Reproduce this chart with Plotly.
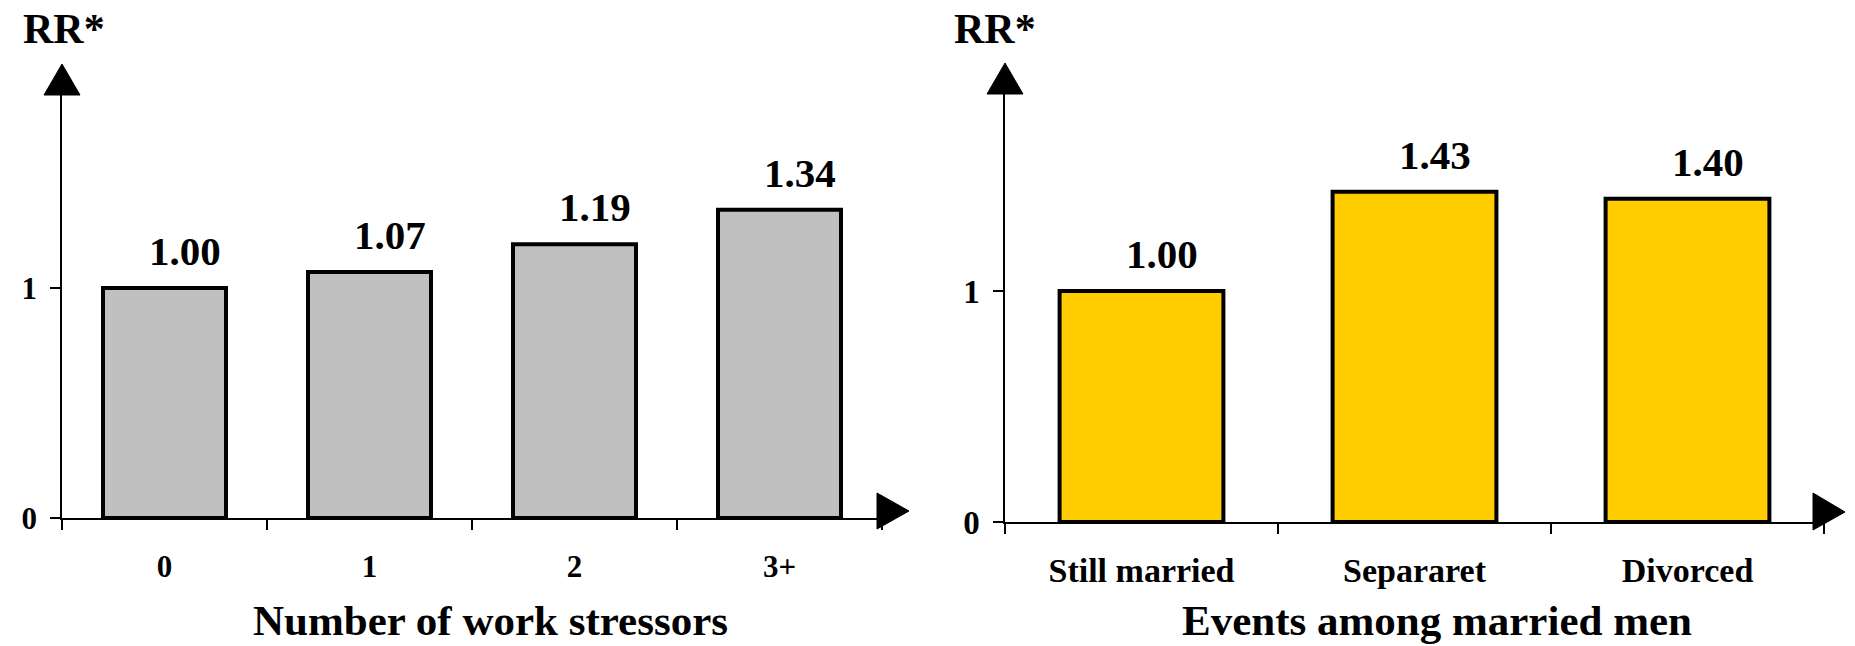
import plotly.graph_objects as go

# ---- data ----
stressor_cats = ["0", "1", "2", "3+"]
stressor_rr = [1.00, 1.07, 1.19, 1.34]
event_cats = ["Still married", "Separaret", "Divorced"]
event_rr = [1.00, 1.43, 1.40]
y_tickvals = [0, 1]
left_title = "Number of work stressors"
right_title = "Events among married men"
y_label = "RR*"

W, H = 1855, 646
FONT = "Liberation Serif, Times New Roman, serif"

fig = go.Figure()

fig.add_trace(go.Bar(
    x=stressor_cats, y=stressor_rr, xaxis="x", yaxis="y",
    marker=dict(color="#C0C0C0", line=dict(color="black", width=4)),
    hoverinfo="skip", showlegend=False,
))
fig.add_trace(go.Bar(
    x=event_cats, y=event_rr, xaxis="x2", yaxis="y2",
    marker=dict(color="#FFCC00", line=dict(color="black", width=4)),
    hoverinfo="skip", showlegend=False,
))

def px_domain_x(a, b):
    return [a / W, b / W]

def px_domain_y(bottom_px, top_px):
    return [(H - bottom_px) / H, (H - top_px) / H]

common_x = dict(
    type="category", showgrid=False, zeroline=False, showline=True,
    linecolor="black", linewidth=1.5, ticks="outside", ticklen=10,
    tickwidth=1.5, tickcolor="black", tickson="boundaries", automargin=False,
)
common_y = dict(
    showgrid=False, zeroline=False, showline=True, linecolor="black",
    linewidth=1.5, ticks="outside", ticklen=10, tickwidth=1.5,
    tickcolor="black", tickvals=y_tickvals, ticklabelstandoff=7,
    automargin=False,
)

fig.update_layout(
    width=W, height=H,
    margin=dict(l=0, r=0, t=0, b=0),
    paper_bgcolor="white", plot_bgcolor="white",
    bargap=0.4,
    font=dict(family=FONT, color="black"),
    xaxis=dict(common_x, domain=px_domain_x(62, 882), range=[-0.5, 3.5],
               anchor="y", ticklabelstandoff=20,
               tickfont=dict(family=FONT, size=31, weight="bold", color="black")),
    yaxis=dict(common_y, domain=px_domain_y(518, 95), range=[0, 1.839],
               anchor="x",
               tickfont=dict(family=FONT, size=31, weight="bold", color="black")),
    xaxis2=dict(common_x, domain=px_domain_x(1005, 1824), range=[-0.5, 2.5],
                anchor="y2", ticklabelstandoff=17,
                tickfont=dict(family=FONT, size=34, weight="bold", color="black")),
    yaxis2=dict(common_y, domain=px_domain_y(522, 94), range=[0, 1.853],
                anchor="x2",
                tickfont=dict(family=FONT, size=33, weight="bold", color="black")),
)

# value labels above bars (slightly right of bar centre, as in the original)
for cats, vals, xa, ya in [(stressor_cats, stressor_rr, "x", "y"),
                           (event_cats, event_rr, "x2", "y2")]:
    for c, v in zip(cats, vals):
        fig.add_annotation(
            x=c, y=v, xref=xa, yref=ya, text=f"{v:.2f}", showarrow=False,
            yanchor="bottom", yshift=12, xshift=20,
            font=dict(family=FONT, size=41, weight="bold", color="black"),
        )

# arrows on axes
for xa, ya, rpath in [("x", "y", "M-5,-11 L-5,25 L27,7 Z"),
                      ("x2", "y2", "M-11,-8 L-11,29 L21,10 Z")]:
    # up arrow at top of y axis
    fig.add_shape(type="path", xref=f"{xa} domain", yref=f"{ya} domain",
                  xsizemode="pixel", ysizemode="pixel", xanchor=0, yanchor=1,
                  path="M-18,0 L18,0 L0,31 Z",
                  fillcolor="black", line=dict(color="black", width=1))
    # right arrow at end of x axis
    fig.add_shape(type="path", xref=f"{xa} domain", yref=f"{ya} domain",
                  xsizemode="pixel", ysizemode="pixel", xanchor=1, yanchor=0,
                  path=rpath,
                  fillcolor="black", line=dict(color="black", width=1))

# "RR*" labels
for xpx in [21, 952]:
    fig.add_annotation(
        x=xpx / W, y=1 - 4 / H, xref="paper", yref="paper", text=y_label,
        showarrow=False, xanchor="left", yanchor="top",
        font=dict(family=FONT, size=42, weight="bold", color="black"),
    )

# axis titles
for xc, txt in [(491, left_title), (1437, right_title)]:
    fig.add_annotation(
        x=xc / W, y=(H - 595) / H, xref="paper", yref="paper", text=txt,
        showarrow=False, xanchor="center", yanchor="top",
        font=dict(family=FONT, size=43, weight="bold", color="black"),
    )

fig.write_html(
    "out.html",
    config={"displayModeBar": False},
    post_script="document.body.style.margin='0';document.body.style.overflow='hidden';",
)
